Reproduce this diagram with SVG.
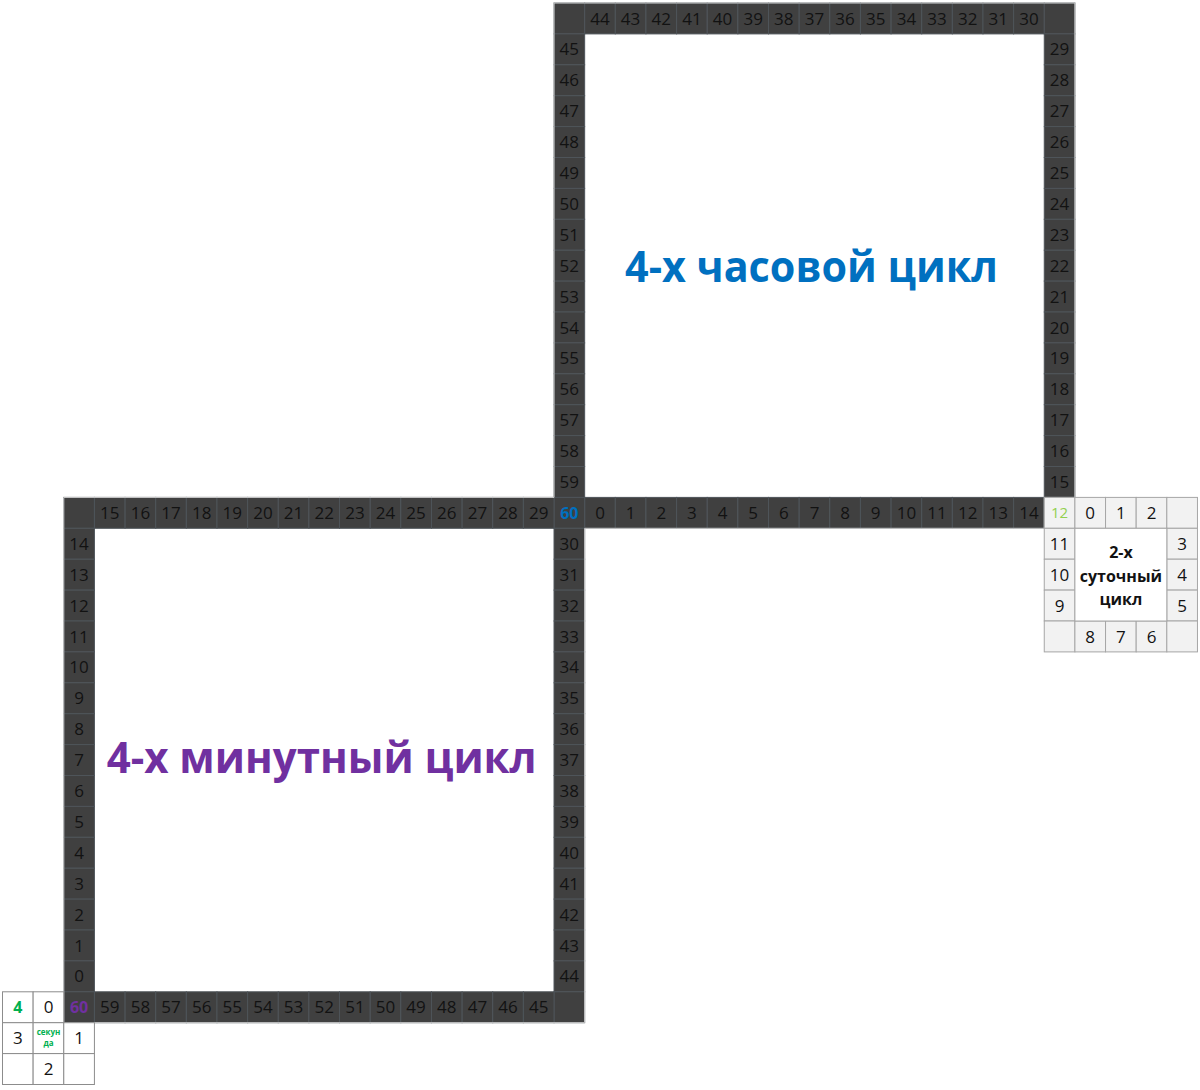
<svg xmlns="http://www.w3.org/2000/svg" xmlns:xlink="http://www.w3.org/1999/xlink" width="1200" height="1090" viewBox="0 0 1200 1090">
<style>
.d{fill:#404040;stroke:#4e5459;stroke-width:1}
.l{fill:#f2f2f2;stroke:#a6a6a6;stroke-width:1}
.w{fill:#ffffff;stroke:#8c8c8c;stroke-width:1}
text{font-family:"Open Sans","Noto Sans",sans-serif;text-anchor:middle}
.n{font-size:17px;fill:#121212}
.b{font-weight:700}
.t{font-size:43px;font-weight:700}
.blue{fill:#0070c0}
.purple{fill:#7030a0}
.green{fill:#00b050}
.lgreen{fill:#92d050}
</style>
<defs>
<rect id="dc" class="d" width="30.64" height="30.9"/>
<rect id="lc" class="l" width="30.64" height="30.9"/>
<rect id="wc" class="w" width="30.64" height="30.9"/>
</defs>
<rect width="1200" height="1090" fill="#ffffff"/>

<g id="hour-cycle">
<g id="hour-top-row">
<use href="#dc" x="554.02" y="3"/><use href="#dc" x="584.66" y="3"/><use href="#dc" x="615.3" y="3"/><use href="#dc" x="645.94" y="3"/><use href="#dc" x="676.58" y="3"/><use href="#dc" x="707.22" y="3"/><use href="#dc" x="737.86" y="3"/><use href="#dc" x="768.5" y="3"/><use href="#dc" x="799.14" y="3"/><use href="#dc" x="829.78" y="3"/><use href="#dc" x="860.42" y="3"/><use href="#dc" x="891.06" y="3"/><use href="#dc" x="921.7" y="3"/><use href="#dc" x="952.34" y="3"/><use href="#dc" x="982.98" y="3"/><use href="#dc" x="1013.62" y="3"/><use href="#dc" x="1044.26" y="3"/>
<text class="n" x="600" y="24.5">44</text><text class="n" x="630.6" y="24.5">43</text><text class="n" x="661.3" y="24.5">42</text><text class="n" x="691.9" y="24.5">41</text><text class="n" x="722.5" y="24.5">40</text><text class="n" x="753.2" y="24.5">39</text><text class="n" x="783.8" y="24.5">38</text><text class="n" x="814.5" y="24.5">37</text><text class="n" x="845.1" y="24.5">36</text><text class="n" x="875.7" y="24.5">35</text><text class="n" x="906.4" y="24.5">34</text><text class="n" x="937" y="24.5">33</text><text class="n" x="967.7" y="24.5">32</text><text class="n" x="998.3" y="24.5">31</text><text class="n" x="1028.9" y="24.5">30</text>
</g>
<g id="hour-right-col">
<use href="#dc" x="1044.26" y="33.9"/><use href="#dc" x="1044.26" y="64.8"/><use href="#dc" x="1044.26" y="95.7"/><use href="#dc" x="1044.26" y="126.6"/><use href="#dc" x="1044.26" y="157.5"/><use href="#dc" x="1044.26" y="188.4"/><use href="#dc" x="1044.26" y="219.3"/><use href="#dc" x="1044.26" y="250.2"/><use href="#dc" x="1044.26" y="281.1"/><use href="#dc" x="1044.26" y="312"/><use href="#dc" x="1044.26" y="342.9"/><use href="#dc" x="1044.26" y="373.8"/><use href="#dc" x="1044.26" y="404.7"/><use href="#dc" x="1044.26" y="435.6"/><use href="#dc" x="1044.26" y="466.5"/>
<text class="n" x="1059.6" y="55.4">29</text><text class="n" x="1059.6" y="86.3">28</text><text class="n" x="1059.6" y="117.2">27</text><text class="n" x="1059.6" y="148.1">26</text><text class="n" x="1059.6" y="179">25</text><text class="n" x="1059.6" y="209.9">24</text><text class="n" x="1059.6" y="240.8">23</text><text class="n" x="1059.6" y="271.7">22</text><text class="n" x="1059.6" y="302.6">21</text><text class="n" x="1059.6" y="333.5">20</text><text class="n" x="1059.6" y="364.4">19</text><text class="n" x="1059.6" y="395.3">18</text><text class="n" x="1059.6" y="426.2">17</text><text class="n" x="1059.6" y="457.1">16</text><text class="n" x="1059.6" y="488">15</text>
</g>
<g id="hour-left-col">
<use href="#dc" x="554.02" y="33.9"/><use href="#dc" x="554.02" y="64.8"/><use href="#dc" x="554.02" y="95.7"/><use href="#dc" x="554.02" y="126.6"/><use href="#dc" x="554.02" y="157.5"/><use href="#dc" x="554.02" y="188.4"/><use href="#dc" x="554.02" y="219.3"/><use href="#dc" x="554.02" y="250.2"/><use href="#dc" x="554.02" y="281.1"/><use href="#dc" x="554.02" y="312"/><use href="#dc" x="554.02" y="342.9"/><use href="#dc" x="554.02" y="373.8"/><use href="#dc" x="554.02" y="404.7"/><use href="#dc" x="554.02" y="435.6"/><use href="#dc" x="554.02" y="466.5"/>
<text class="n" x="569.3" y="55.4">45</text><text class="n" x="569.3" y="86.3">46</text><text class="n" x="569.3" y="117.2">47</text><text class="n" x="569.3" y="148.1">48</text><text class="n" x="569.3" y="179">49</text><text class="n" x="569.3" y="209.9">50</text><text class="n" x="569.3" y="240.8">51</text><text class="n" x="569.3" y="271.7">52</text><text class="n" x="569.3" y="302.6">53</text><text class="n" x="569.3" y="333.5">54</text><text class="n" x="569.3" y="364.4">55</text><text class="n" x="569.3" y="395.3">56</text><text class="n" x="569.3" y="426.2">57</text><text class="n" x="569.3" y="457.1">58</text><text class="n" x="569.3" y="488">59</text>
</g>
<g id="hour-bottom-row">
<use href="#dc" x="584.66" y="497.4"/><use href="#dc" x="615.3" y="497.4"/><use href="#dc" x="645.94" y="497.4"/><use href="#dc" x="676.58" y="497.4"/><use href="#dc" x="707.22" y="497.4"/><use href="#dc" x="737.86" y="497.4"/><use href="#dc" x="768.5" y="497.4"/><use href="#dc" x="799.14" y="497.4"/><use href="#dc" x="829.78" y="497.4"/><use href="#dc" x="860.42" y="497.4"/><use href="#dc" x="891.06" y="497.4"/><use href="#dc" x="921.7" y="497.4"/><use href="#dc" x="952.34" y="497.4"/><use href="#dc" x="982.98" y="497.4"/><use href="#dc" x="1013.62" y="497.4"/>
<text class="n" x="600" y="518.9">0</text><text class="n" x="630.6" y="518.9">1</text><text class="n" x="661.3" y="518.9">2</text><text class="n" x="691.9" y="518.9">3</text><text class="n" x="722.5" y="518.9">4</text><text class="n" x="753.2" y="518.9">5</text><text class="n" x="783.8" y="518.9">6</text><text class="n" x="814.5" y="518.9">7</text><text class="n" x="845.1" y="518.9">8</text><text class="n" x="875.7" y="518.9">9</text><text class="n" x="906.4" y="518.9">10</text><text class="n" x="937" y="518.9">11</text><text class="n" x="967.7" y="518.9">12</text><text class="n" x="998.3" y="518.9">13</text><text class="n" x="1028.9" y="518.9">14</text>
</g>
<text class="t blue" x="811.5" y="282" textLength="373" lengthAdjust="spacingAndGlyphs">4-х часовой цикл</text>
</g>

<g id="shared-cell">
<use href="#dc" x="554.02" y="497.4"/>
<text class="b blue" x="569.3" y="518.6" font-size="16">60</text>
</g>

<g id="minute-cycle">
<g id="minute-top-row">
<use href="#dc" x="63.78" y="497.4"/><use href="#dc" x="94.42" y="497.4"/><use href="#dc" x="125.06" y="497.4"/><use href="#dc" x="155.7" y="497.4"/><use href="#dc" x="186.34" y="497.4"/><use href="#dc" x="216.98" y="497.4"/><use href="#dc" x="247.62" y="497.4"/><use href="#dc" x="278.26" y="497.4"/><use href="#dc" x="308.9" y="497.4"/><use href="#dc" x="339.54" y="497.4"/><use href="#dc" x="370.18" y="497.4"/><use href="#dc" x="400.82" y="497.4"/><use href="#dc" x="431.46" y="497.4"/><use href="#dc" x="462.1" y="497.4"/><use href="#dc" x="492.74" y="497.4"/><use href="#dc" x="523.38" y="497.4"/>
<text class="n" x="109.7" y="518.9">15</text><text class="n" x="140.4" y="518.9">16</text><text class="n" x="171" y="518.9">17</text><text class="n" x="201.7" y="518.9">18</text><text class="n" x="232.3" y="518.9">19</text><text class="n" x="262.9" y="518.9">20</text><text class="n" x="293.6" y="518.9">21</text><text class="n" x="324.2" y="518.9">22</text><text class="n" x="354.9" y="518.9">23</text><text class="n" x="385.5" y="518.9">24</text><text class="n" x="416.1" y="518.9">25</text><text class="n" x="446.8" y="518.9">26</text><text class="n" x="477.4" y="518.9">27</text><text class="n" x="508.1" y="518.9">28</text><text class="n" x="538.7" y="518.9">29</text>
</g>
<g id="minute-right-col">
<use href="#dc" x="554.02" y="528.3"/><use href="#dc" x="554.02" y="559.2"/><use href="#dc" x="554.02" y="590.1"/><use href="#dc" x="554.02" y="621"/><use href="#dc" x="554.02" y="651.9"/><use href="#dc" x="554.02" y="682.8"/><use href="#dc" x="554.02" y="713.7"/><use href="#dc" x="554.02" y="744.6"/><use href="#dc" x="554.02" y="775.5"/><use href="#dc" x="554.02" y="806.4"/><use href="#dc" x="554.02" y="837.3"/><use href="#dc" x="554.02" y="868.2"/><use href="#dc" x="554.02" y="899.1"/><use href="#dc" x="554.02" y="930"/><use href="#dc" x="554.02" y="960.9"/><use href="#dc" x="554.02" y="991.8"/>
<text class="n" x="569.3" y="549.8">30</text><text class="n" x="569.3" y="580.7">31</text><text class="n" x="569.3" y="611.6">32</text><text class="n" x="569.3" y="642.5">33</text><text class="n" x="569.3" y="673.4">34</text><text class="n" x="569.3" y="704.3">35</text><text class="n" x="569.3" y="735.2">36</text><text class="n" x="569.3" y="766.1">37</text><text class="n" x="569.3" y="797">38</text><text class="n" x="569.3" y="827.9">39</text><text class="n" x="569.3" y="858.8">40</text><text class="n" x="569.3" y="889.7">41</text><text class="n" x="569.3" y="920.6">42</text><text class="n" x="569.3" y="951.5">43</text><text class="n" x="569.3" y="982.4">44</text>
</g>
<g id="minute-left-col">
<use href="#dc" x="63.78" y="528.3"/><use href="#dc" x="63.78" y="559.2"/><use href="#dc" x="63.78" y="590.1"/><use href="#dc" x="63.78" y="621"/><use href="#dc" x="63.78" y="651.9"/><use href="#dc" x="63.78" y="682.8"/><use href="#dc" x="63.78" y="713.7"/><use href="#dc" x="63.78" y="744.6"/><use href="#dc" x="63.78" y="775.5"/><use href="#dc" x="63.78" y="806.4"/><use href="#dc" x="63.78" y="837.3"/><use href="#dc" x="63.78" y="868.2"/><use href="#dc" x="63.78" y="899.1"/><use href="#dc" x="63.78" y="930"/><use href="#dc" x="63.78" y="960.9"/><use href="#dc" x="63.78" y="991.8"/>
<text class="n" x="79.1" y="549.8">14</text><text class="n" x="79.1" y="580.7">13</text><text class="n" x="79.1" y="611.6">12</text><text class="n" x="79.1" y="642.5">11</text><text class="n" x="79.1" y="673.4">10</text><text class="n" x="79.1" y="704.3">9</text><text class="n" x="79.1" y="735.2">8</text><text class="n" x="79.1" y="766.1">7</text><text class="n" x="79.1" y="797">6</text><text class="n" x="79.1" y="827.9">5</text><text class="n" x="79.1" y="858.8">4</text><text class="n" x="79.1" y="889.7">3</text><text class="n" x="79.1" y="920.6">2</text><text class="n" x="79.1" y="951.5">1</text><text class="n" x="79.1" y="982.4">0</text>
<text class="b purple" x="79.1" y="1013" font-size="16">60</text>
</g>
<g id="minute-bottom-row">
<use href="#dc" x="94.42" y="991.8"/><use href="#dc" x="125.06" y="991.8"/><use href="#dc" x="155.7" y="991.8"/><use href="#dc" x="186.34" y="991.8"/><use href="#dc" x="216.98" y="991.8"/><use href="#dc" x="247.62" y="991.8"/><use href="#dc" x="278.26" y="991.8"/><use href="#dc" x="308.9" y="991.8"/><use href="#dc" x="339.54" y="991.8"/><use href="#dc" x="370.18" y="991.8"/><use href="#dc" x="400.82" y="991.8"/><use href="#dc" x="431.46" y="991.8"/><use href="#dc" x="462.1" y="991.8"/><use href="#dc" x="492.74" y="991.8"/><use href="#dc" x="523.38" y="991.8"/>
<text class="n" x="109.7" y="1013.3">59</text><text class="n" x="140.4" y="1013.3">58</text><text class="n" x="171" y="1013.3">57</text><text class="n" x="201.7" y="1013.3">56</text><text class="n" x="232.3" y="1013.3">55</text><text class="n" x="262.9" y="1013.3">54</text><text class="n" x="293.6" y="1013.3">53</text><text class="n" x="324.2" y="1013.3">52</text><text class="n" x="354.9" y="1013.3">51</text><text class="n" x="385.5" y="1013.3">50</text><text class="n" x="416.1" y="1013.3">49</text><text class="n" x="446.8" y="1013.3">48</text><text class="n" x="477.4" y="1013.3">47</text><text class="n" x="508.1" y="1013.3">46</text><text class="n" x="538.7" y="1013.3">45</text>
</g>
<text class="t purple" x="321.7" y="773" textLength="430" lengthAdjust="spacingAndGlyphs">4-х минутный цикл</text>
</g>

<g id="frame-outline">
<polygon points="554.02,3 1074.9,3 1074.9,497.4 1044.26,497.4 1044.26,528.3 584.66,528.3 584.66,1022.7 63.78,1022.7 63.78,497.4 554.02,497.4" fill="none" stroke="#cfcfcf" stroke-width="1"/>
</g>

<g id="daily-cycle">
<use href="#lc" x="1044.26" y="497.4"/><use href="#lc" x="1074.9" y="497.4"/><use href="#lc" x="1105.54" y="497.4"/><use href="#lc" x="1136.18" y="497.4"/><use href="#lc" x="1166.82" y="497.4"/>
<use href="#lc" x="1044.26" y="528.3"/><use href="#lc" x="1044.26" y="559.2"/><use href="#lc" x="1044.26" y="590.1"/>
<use href="#lc" x="1166.82" y="528.3"/><use href="#lc" x="1166.82" y="559.2"/><use href="#lc" x="1166.82" y="590.1"/>
<use href="#lc" x="1044.26" y="621"/><use href="#lc" x="1074.9" y="621"/><use href="#lc" x="1105.54" y="621"/><use href="#lc" x="1136.18" y="621"/><use href="#lc" x="1166.82" y="621"/>
<rect x="1074.9" y="528.3" width="91.92" height="92.7" fill="#ffffff" stroke="#a6a6a6" stroke-width="1"/>
<text class="lgreen" x="1059.6" y="518.3" font-size="15">12</text>
<text class="n" x="1090.2" y="518.9">0</text><text class="n" x="1120.9" y="518.9">1</text><text class="n" x="1151.5" y="518.9">2</text>
<text class="n" x="1059.6" y="549.8">11</text><text class="n" x="1059.6" y="580.7">10</text><text class="n" x="1059.6" y="611.6">9</text>
<text class="n" x="1182.1" y="549.8">3</text><text class="n" x="1182.1" y="580.7">4</text><text class="n" x="1182.1" y="611.6">5</text>
<text class="n" x="1090.2" y="642.5">8</text><text class="n" x="1120.9" y="642.5">7</text><text class="n" x="1151.5" y="642.5">6</text>
<text class="b" font-size="16" fill="#121212" x="1120.9" y="557.5">2-х</text>
<text class="b" font-size="16" fill="#121212" x="1120.9" y="581.5">суточный</text>
<text class="b" font-size="16" fill="#121212" x="1120.9" y="604.5">цикл</text>
</g>

<g id="seconds-cycle">
<use href="#wc" x="2.5" y="991.8"/><use href="#wc" x="33.14" y="991.8"/>
<use href="#wc" x="2.5" y="1022.7"/><use href="#wc" x="33.14" y="1022.7"/><use href="#wc" x="63.78" y="1022.7"/>
<use href="#wc" x="2.5" y="1053.6"/><use href="#wc" x="33.14" y="1053.6"/><use href="#wc" x="63.78" y="1053.6"/>
<text class="b green" x="17.8" y="1013" font-size="16">4</text>
<text class="n" x="48.5" y="1013.3">0</text>
<text class="n" x="17.8" y="1044.2">3</text>
<text class="n" x="79.1" y="1044.2">1</text>
<text class="n" x="48.5" y="1075.1">2</text>
<text class="b green" x="48.5" y="1034.5" font-size="8">секун</text>
<text class="b green" x="48.5" y="1046" font-size="8">да</text>
</g>
</svg>
